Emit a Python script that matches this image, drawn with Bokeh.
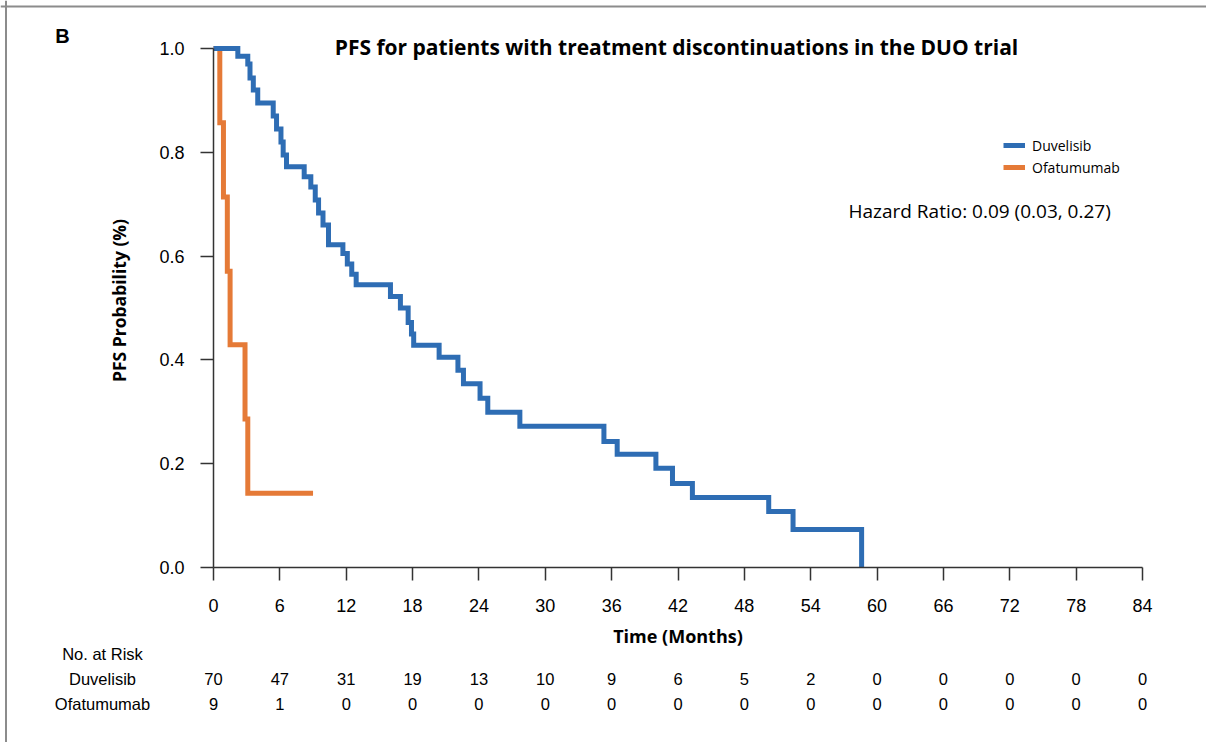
import math
from bokeh.plotting import figure
from bokeh.models import (Range1d, FixedTicker, PrintfTickFormatter, Label, Span,
                          Legend, LegendItem)
from bokeh.core.properties import value
from bokeh.embed import file_html
from bokeh.resources import INLINE

# ---------------- data ----------------
duv_t = [0, 2.2, 3.1, 3.3, 3.6, 4.0, 5.4, 5.7, 6.1, 6.3, 6.6, 8.2, 8.8, 9.2, 9.5, 9.9,
         10.4, 11.7, 12.1, 12.5, 12.9, 16.0, 16.9, 17.6, 17.9, 18.1, 20.4, 22.1, 22.6,
         24.1, 24.8, 27.7, 35.3, 36.5, 40.0, 41.5, 43.3, 50.2, 52.4, 58.6, 58.6]
duv_s = [1.0, 0.985, 0.97, 0.943, 0.92, 0.895, 0.87, 0.845, 0.82, 0.795, 0.772, 0.753,
         0.733, 0.708, 0.683, 0.66, 0.622, 0.605, 0.585, 0.565, 0.545, 0.522, 0.5, 0.472,
         0.45, 0.428, 0.405, 0.38, 0.354, 0.326, 0.299, 0.272, 0.243, 0.218, 0.191, 0.162,
         0.135, 0.108, 0.073, 0.0, 0.0]
ofa_t = [0, 0.57, 0.9, 1.25, 1.5, 2.85, 3.1, 9.0]
ofa_s = [1.0, 0.857, 0.714, 0.571, 0.429, 0.286, 0.143, 0.143]

x_ticks = [0, 6, 12, 18, 24, 30, 36, 42, 48, 54, 60, 66, 72, 78, 84]
y_ticks = [0.0, 0.2, 0.4, 0.6, 0.8, 1.0]
risk_duv = [70, 47, 31, 19, 13, 10, 9, 6, 5, 2, 0, 0, 0, 0, 0]
risk_ofa = [9, 1, 0, 0, 0, 0, 0, 0, 0, 0, 0, 0, 0, 0, 0]
risk_rows = ["No. at Risk", "Duvelisib", "Ofatumumab"]

title_text = "PFS for patients with treatment discontinuations in the DUO trial"
hr_text = "Hazard Ratio: 0.09 (0.03, 0.27)"
y_label = "PFS Probability (%)"
x_label = "Time (Months)"

BLUE = "#2e6db4"
ORANGE = "#e57a37"
AX = "#333333"
SANS = "Liberation Sans"
CAL = "Open Sans"

# ------------- layout helpers (page pixels -> data) -------------
X0_PX, PX_PER_MONTH = 213.0, 11.06
Y0_PX, PX_PER_UNIT = 567.0, 519.0


def dx(page_x):
    return (page_x - X0_PX) / PX_PER_MONTH


def dy(page_y):
    return (Y0_PX - page_y) / PX_PER_UNIT


W, H = 1206, 742

p = figure(width=W, height=H, output_backend="svg", toolbar_location=None,
           x_range=Range1d(dx(0), dx(W)), y_range=Range1d(dy(H), dy(0)),
           min_border_left=0, min_border_right=0, min_border_top=0,
           min_border_bottom=0)
p.outline_line_color = None
p.grid.visible = False
p.background_fill_color = "white"
p.border_fill_color = "white"

# panel frame (top and left gray rules)
p.add_layout(Span(location=dy(6), dimension="width", line_color="#8c8c8c", line_width=2))
p.add_layout(Span(location=dx(5.5), dimension="height", line_color="#8c8c8c", line_width=2))

r_ofa = p.step(ofa_t, ofa_s, mode="after", line_color=ORANGE, line_width=5,
               line_join="miter")
r_duv = p.step(duv_t, duv_s, mode="after", line_color=BLUE, line_width=5,
               line_join="miter")

# axes (fixed at the data origin)
xa = p.xaxis[0]
xa.fixed_location = 0
xa.ticker = FixedTicker(ticks=x_ticks)
xa.bounds = (0, 84)
xa.minor_tick_line_color = None
xa.major_tick_out = 13
xa.major_tick_in = 0
xa.axis_line_color = AX
xa.axis_line_width = 1.5
xa.major_tick_line_color = AX
xa.major_tick_line_width = 1.5
xa.major_label_text_font = SANS
xa.major_label_text_font_size = "18px"
xa.major_label_text_color = "black"
xa.major_label_standoff = 18
xa.axis_label = x_label
xa.axis_label_text_font = CAL
xa.axis_label_text_font_style = "bold"
xa.axis_label_text_font_size = "18px"
xa.axis_label_text_color = "black"
xa.axis_label_standoff = 9

ya = p.yaxis[0]
ya.fixed_location = 0
ya.ticker = FixedTicker(ticks=y_ticks)
ya.formatter = PrintfTickFormatter(format="%.1f")
ya.bounds = (0, 1)
ya.minor_tick_line_color = None
ya.major_tick_out = 13
ya.major_tick_in = 0
ya.axis_line_color = AX
ya.axis_line_width = 1.5
ya.major_tick_line_color = AX
ya.major_tick_line_width = 1.5
ya.major_label_text_font = SANS
ya.major_label_text_font_size = "18px"
ya.major_label_text_color = "black"
ya.major_label_standoff = 16

# y axis title (placed slightly above the axis centre, as in the original)
p.add_layout(Label(x=dx(118), y=dy(300), text=y_label, angle=math.pi / 2,
                   text_align="center", text_baseline="middle", text_font=CAL,
                   text_font_style="bold", text_font_size="17.5px", text_color="black"))

# title and panel letter
p.add_layout(Label(x=dx(676), y=dy(46), text=title_text, text_align="center",
                   text_baseline="middle", text_font=CAL, text_font_style="bold",
                   text_font_size="21px", text_color="black"))
p.add_layout(Label(x=dx(62), y=dy(35), text="B", text_align="center",
                   text_baseline="middle", text_font=SANS, text_font_style="bold",
                   text_font_size="20px", text_color="black"))

# hazard ratio
p.add_layout(Label(x=dx(848), y=dy(210), text=hr_text, text_align="left",
                   text_baseline="middle", text_font=CAL, text_font_size="19px",
                   text_color="black"))

# legend
legend = Legend(items=[LegendItem(label="Duvelisib", renderers=[r_duv]),
                       LegendItem(label="Ofatumumab", renderers=[r_ofa])],
                location=(1003, H - 177), orientation="vertical",
                glyph_width=22, glyph_height=20, label_height=20, spacing=2,
                label_standoff=7, padding=0, margin=0,
                border_line_color=None, background_fill_alpha=0,
                label_text_font=CAL, label_text_font_size="14px",
                label_text_color="black")
p.add_layout(legend, "center")

# risk table
row_y = [dy(653), dy(678), dy(703)]
p.text(x=[dx(102)] * 3, y=row_y, text=risk_rows, text_align="center",
       text_baseline="middle", text_font=value(SANS), text_font_size="16.5px",
       text_color="black")
p.text(x=x_ticks, y=[row_y[1]] * len(x_ticks), text=[str(v) for v in risk_duv],
       text_align="center", text_baseline="middle", text_font=value(SANS),
       text_font_size="16.5px", text_color="black")
p.text(x=x_ticks, y=[row_y[2]] * len(x_ticks), text=[str(v) for v in risk_ofa],
       text_align="center", text_baseline="middle", text_font=value(SANS),
       text_font_size="16.5px", text_color="black")

open("out.html", "w").write(file_html(p, INLINE))
